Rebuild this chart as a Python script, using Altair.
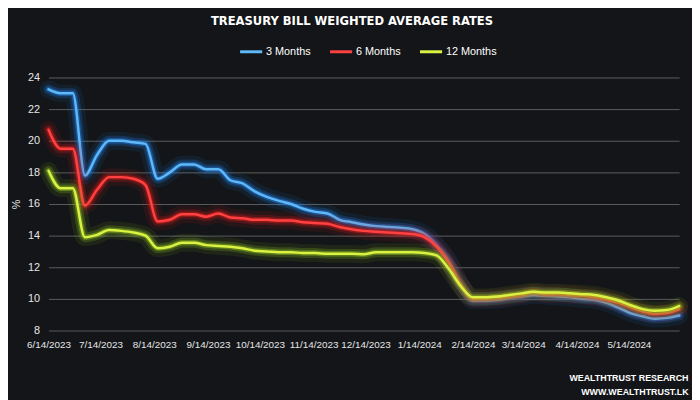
import altair as alt
import pandas as pd

dates = [
    "2023-06-14", "2023-06-21", "2023-06-28", "2023-07-05", "2023-07-12", "2023-07-19",
    "2023-07-26", "2023-08-02", "2023-08-09", "2023-08-16", "2023-08-23", "2023-08-30",
    "2023-09-06", "2023-09-13", "2023-09-20", "2023-09-27", "2023-10-04", "2023-10-11",
    "2023-10-18", "2023-10-25", "2023-11-01", "2023-11-08", "2023-11-15", "2023-11-22",
    "2023-11-29", "2023-12-06", "2023-12-13", "2023-12-20", "2023-12-27", "2024-01-03",
    "2024-01-10", "2024-01-17", "2024-01-24", "2024-01-31", "2024-02-07", "2024-02-14",
    "2024-02-21", "2024-02-28", "2024-03-06", "2024-03-13", "2024-03-20", "2024-03-27",
    "2024-04-03", "2024-04-10", "2024-04-17", "2024-04-24", "2024-05-01", "2024-05-08",
    "2024-05-15", "2024-05-22", "2024-05-29", "2024-06-05", "2024-06-12",
]

m3 = [23.25, 23.0, 23.0, 17.8, 19.1, 20.0, 20.0, 19.9, 19.8, 17.6, 18.0, 18.5, 18.5,
      18.2, 18.2, 17.5, 17.3, 16.8, 16.45, 16.2, 16.0, 15.7, 15.5, 15.4, 15.0, 14.85,
      14.7, 14.6, 14.55, 14.5, 14.4, 14.1, 13.4, 12.4, 10.9, 9.9, 9.9, 9.95, 10.05,
      10.15, 10.25, 10.2, 10.15, 10.1, 10.0, 9.95, 9.75, 9.45, 9.1, 8.9, 8.75, 8.8, 8.95]
m6 = [20.7, 19.5, 19.5, 15.9, 16.9, 17.7, 17.7, 17.6, 17.2, 14.9, 15.0, 15.35, 15.35,
      15.2, 15.4, 15.15, 15.1, 15.0, 15.0, 14.95, 14.95, 14.85, 14.8, 14.75, 14.55, 14.4,
      14.3, 14.25, 14.2, 14.15, 14.1, 13.9, 13.3, 12.3, 10.9, 10.0, 10.0, 10.05, 10.15,
      10.25, 10.4, 10.3, 10.3, 10.25, 10.2, 10.1, 9.95, 9.75, 9.45, 9.2, 9.05, 9.1, 9.35]
m12 = [18.1, 17.0, 17.0, 13.9, 14.05, 14.35, 14.3, 14.2, 14.0, 13.2, 13.3, 13.55, 13.55,
       13.4, 13.35, 13.3, 13.2, 13.05, 13.0, 12.95, 12.95, 12.9, 12.9, 12.85, 12.85, 12.85,
       12.82, 12.95, 12.95, 12.95, 12.95, 12.9, 12.75, 11.9, 10.8, 10.1, 10.1, 10.15, 10.25,
       10.35, 10.45, 10.4, 10.4, 10.35, 10.3, 10.25, 10.1, 9.9, 9.6, 9.35, 9.25, 9.3, 9.55]

series_names = ["3 Months", "6 Months", "12 Months"]
core_colors = ["#5fb8f8", "#ff4141", "#dcf243"]
glow_colors = ["#1f7ee6", "#d81a1a", "#8cc21f"]
tick_dates = [(2023, 6), (2023, 7), (2023, 8), (2023, 9), (2023, 10), (2023, 11), (2023, 12),
              (2024, 1), (2024, 2), (2024, 3), (2024, 4), (2024, 5)]
y_ticks = [8, 10, 12, 14, 16, 18, 20, 22, 24]

rows = []
for name, vals in zip(series_names, [m3, m6, m12]):
    for d, v in zip(dates, vals):
        rows.append({"date": d, "series": name, "rate": v})
df = pd.DataFrame(rows)

label_font = "Liberation Sans"

x_enc = alt.X(
    "date:T",
    scale=alt.Scale(
        type="utc", nice=False,
        domain=[alt.DateTime(year=2023, month=6, date=14, utc=True),
                alt.DateTime(year=2024, month=6, date=12, utc=True)],
    ),
    axis=alt.Axis(
        values=[alt.DateTime(year=yy, month=mm, date=14, utc=True) for yy, mm in tick_dates],
        labelExpr="utcFormat(datum.value, '%-m/%-d/%Y')",
        labelColor="#e6e6e6", labelFont=label_font, labelFontSize=10, labelPadding=9,
        labelOverlap=False, labelFlush=False,
        grid=False, domain=False, ticks=False,
        title=["WEALTHTRUST RESEARCH", "WWW.WEALTHTRUST.LK"],
        titleX=647, titleAlign="right", titleColor="#ffffff",
        titleFont="Liberation Sans", titleFontSize=9, titleFontWeight="bold",
        titlePadding=25, titleLineHeight=14,
    ),
)
y_enc = alt.Y(
    "rate:Q",
    scale=alt.Scale(domain=[8, 24], nice=False, zero=False),
    axis=alt.Axis(
        values=y_ticks, labelColor="#e6e6e6", labelFont=label_font, labelFontSize=11,
        labelPadding=9, grid=True, gridColor="#5c5c5c", gridWidth=1,
        domain=False, ticks=False, title="%", titleColor="#e6e6e6",
        titleFont=label_font, titleFontSize=11, titleFontWeight="normal", titlePadding=6,
    ),
)

color_enc = alt.Color(
    "series:N",
    scale=alt.Scale(domain=series_names, range=core_colors),
    legend=alt.Legend(
        orient="none", legendX=192, legendY=-39, direction="horizontal", title=None,
        symbolType="stroke", symbolSize=500, symbolStrokeWidth=3,
        labelColor="#ffffff", labelFont=label_font, labelFontSize=11,
        columnPadding=12, labelOffset=2,
    ),
)

layers = []
for name, glow, core in zip(series_names, glow_colors, core_colors):
    base = alt.Chart(df).transform_filter(alt.datum.series == name)
    layers.append(base.mark_line(strokeWidth=18, opacity=0.10, color=glow, interpolate="monotone",
                                 strokeCap="round", strokeJoin="round").encode(x=x_enc, y=y_enc))
    layers.append(base.mark_line(strokeWidth=10, opacity=0.22, color=glow, interpolate="monotone",
                                 strokeCap="round", strokeJoin="round").encode(x=x_enc, y=y_enc))
    layers.append(base.mark_line(strokeWidth=5.5, opacity=0.45, color=glow, interpolate="monotone",
                                 strokeCap="round", strokeJoin="round").encode(x=x_enc, y=y_enc))
    layers.append(base.mark_line(strokeWidth=2.5, interpolate="monotone", strokeCap="round",
                                 strokeJoin="round").encode(x=x_enc, y=y_enc, color=color_enc))

chart = alt.layer(*layers).properties(
    width=638, height=256,
    autosize=alt.AutoSizeParams(type="none"),
    padding={"left": 41, "top": 68, "right": 13, "bottom": 68},
    background="#131518",
    title=alt.TitleParams(
        "TREASURY BILL WEIGHTED AVERAGE RATES", color="#ffffff",
        font="DejaVu Sans Condensed", fontSize=13, fontWeight="bold",
        anchor="middle", dx=-12, offset=11,
    ),
).configure_view(stroke=None)

chart.save("out.html", embed_options={"renderer": "svg", "actions": False})
